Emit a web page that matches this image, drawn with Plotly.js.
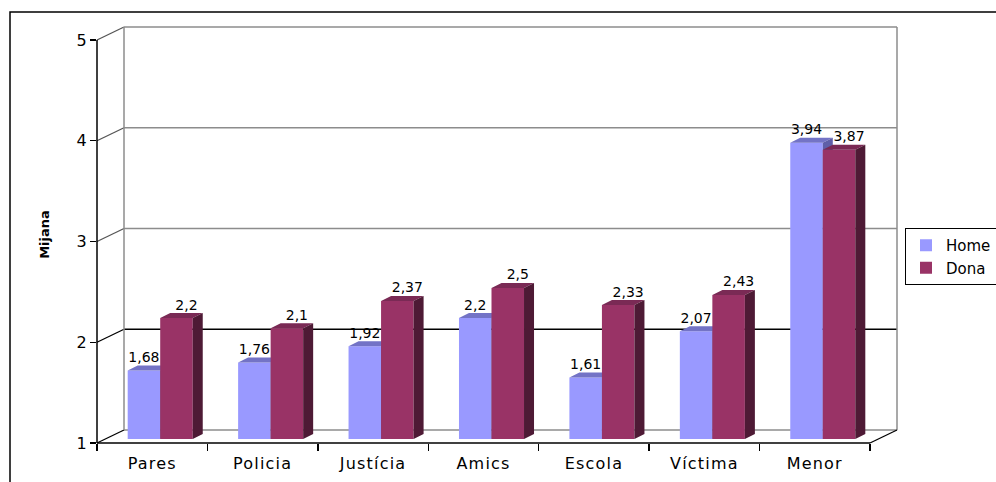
<!DOCTYPE html>
<html><head><meta charset="utf-8">
<script src="https://cdn.plot.ly/plotly-3.0.1.min.js"></script>
<style>
body{margin:0;background:#fff}
.xtick text{letter-spacing:1.2px}
</style>
</head><body>
<div id="chart" style="width:996px;height:482px"></div>
<script>
// ---- data ----
const categories = ['Pares','Policia','Justícia','Amics','Escola','Víctima','Menor'];
const homeValues = [1.68, 1.76, 1.92, 2.2, 1.61, 2.07, 3.94];
const donaValues = [2.2, 2.1, 2.37, 2.5, 2.33, 2.43, 3.87];
const yTickValues = [1, 2, 3, 4, 5];
const seriesNames = ['Home', 'Dona'];
const yTitle = 'Mijana';

// ---- geometry / style ----
const W = 996, H = 482;
const M = {l: 97, r: 99, t: 26, b: 39, autoexpand: false};
const plotW = W - M.l - M.r, plotH = H - M.t - M.b;
const catPx = 773 / 7;     // pixels per category on the front plane
const valPx = 100.75;      // pixels per unit on the value axis
const xmin = -0.5, xmax = xmin + plotW / catPx;
const ymin = 1, ymax = ymin + plotH / valPx;
const dx = p => p / catPx, dy = p => p / valPx;
const xp = v => (v - xmin) / (xmax - xmin);
const yp = v => (v - ymin) / (ymax - ymin);

const back = {x: dx(27), y: dy(13)};   // back wall offset
const plane = {x: dx(8), y: dy(4)};    // bar front plane offset
const depth = {x: dx(10), y: dy(5)};   // bar depth
const barW = 0.2945;
const FONT = 'DejaVu Sans, Liberation Sans, Arial, sans-serif';
const colors = {
  Home: {front: '#9999FF', top: '#7373C6', side: '#5F5FA8'},
  Dona: {front: '#993366', top: '#7A2A55', side: '#4E1A35'}
};
const fmt = v => String(v).replace('.', ',');

function faces(values, offsetUnits) {
  const f = {front: {x: [], y: []}, top: {x: [], y: []}, side: {x: [], y: []}};
  values.forEach((v, i) => {
    const xl = i + offsetUnits + plane.x, xr = xl + barW;
    const b = ymin + plane.y, t = v + plane.y;
    f.front.x.push(xl, xr, xr, xl, xl, null); f.front.y.push(b, b, t, t, b, null);
    f.top.x.push(xl, xr, xr + depth.x, xl + depth.x, xl, null);
    f.top.y.push(t, t, t + depth.y, t + depth.y, t, null);
    f.side.x.push(xr, xr + depth.x, xr + depth.x, xr, xr, null);
    f.side.y.push(b, b + depth.y, t + depth.y, t, b, null);
  });
  return f;
}

const traces = [];
const series = [[homeValues, -barW], [donaValues, 0]];
series.forEach(([vals, off], s) => {
  const name = seriesNames[s];
  const f = faces(vals, off);
  ['front', 'top', 'side'].forEach(k => {
    traces.push({type: 'scatter', mode: 'lines', x: f[k].x, y: f[k].y, fill: 'toself',
      fillcolor: colors[name][k], line: {width: 0, color: colors[name][k]},
      hoverinfo: 'skip', showlegend: false, name: name});
  });
});
// value labels
series.forEach(([vals, off], s) => {
  const shift = s === 0 ? 0 : depth.x;
  traces.push({type: 'scatter', mode: 'text', showlegend: false, hoverinfo: 'skip',
    x: vals.map((v, i) => i + off + plane.x + barW / 2 + shift),
    y: vals.map(v => v + plane.y + depth.y),
    text: vals.map(fmt), textposition: 'top center', cliponaxis: false,
    textfont: {family: FONT, size: 14, color: '#000'}});
});
// legend entries
seriesNames.forEach(name => {
  traces.push({type: 'scatter', mode: 'markers', x: [null], y: [null], name: name,
    marker: {symbol: 'square', size: 12, color: colors[name].front}});
});

// frame shapes
const shapes = [];
const L = (x0, y0, x1, y1, color, width) => shapes.push({type: 'line', xref: 'paper', yref: 'paper',
  x0: xp(x0), y0: yp(y0), x1: xp(x1), y1: yp(y1), layer: 'below', line: {color: color, width: width}});
const xEnd = xmin + categories.length;
yTickValues.forEach(v => {
  L(xmin + back.x, v + back.y, xEnd + back.x, v + back.y, v === 2 ? '#000' : '#8c8c8c', 1.5);
  L(xmin, v, xmin + back.x, v + back.y, v <= 2 ? '#000' : '#555', 1.3);
});
L(xmin + back.x, ymin + back.y, xmin + back.x, 5 + back.y, '#8c8c8c', 1.5);
L(xEnd + back.x, ymin + back.y, xEnd + back.x, 5 + back.y, '#8c8c8c', 1.5);
L(xmin, ymin, xEnd, ymin, '#000', 1.5);
L(xEnd, ymin, xEnd + back.x, ymin + back.y, '#000', 1.3);
L(xmin, ymin, xmin, 5, '#000', 1.5);
// outer border
shapes.push({type: 'rect', xref: 'paper', yref: 'paper',
  x0: (10 - M.l) / plotW, x1: (1010 - M.l) / plotW,
  y0: (H - M.b - 12) / plotH, y1: (H - M.b - 500) / plotH,
  line: {color: '#000', width: 1.5}, layer: 'below'});

const layout = {
  width: W, height: H, margin: M, paper_bgcolor: '#fff', plot_bgcolor: 'rgba(0,0,0,0)',
  font: {family: FONT, color: '#000'},
  showlegend: true,
  xaxis: {range: [xmin, xmax], showgrid: false, zeroline: false, showline: false,
    tickmode: 'array', tickvals: categories.map((c, i) => i), ticktext: categories,
    ticks: 'outside', ticklen: 6, tickcolor: 'rgba(0,0,0,0)',
    tickfont: {family: FONT, size: 16, color: '#000'},
    minor: {tickmode: 'array', tickvals: categories.map((c, i) => i - 0.5).concat([xEnd]),
      ticks: 'outside', ticklen: 7, tickwidth: 1.3, tickcolor: '#000', showgrid: false},
    fixedrange: true},
  yaxis: {range: [ymin, ymax], showgrid: false, zeroline: false, showline: false,
    tickmode: 'array', tickvals: yTickValues, ticktext: yTickValues.map(String),
    ticks: 'outside', ticklen: 6, tickwidth: 1.3, tickcolor: '#000',
    tickfont: {family: FONT, size: 16, color: '#000'},
    title: {text: '<b>' + yTitle + '</b>', font: {family: FONT, size: 13, color: '#000'}, standoff: 24},
    fixedrange: true},
  legend: {x: (905 - M.l) / plotW, xanchor: 'left', y: (H - M.b - 228) / plotH, yanchor: 'top',
    bgcolor: '#fff', bordercolor: '#000', borderwidth: 1,
    font: {family: FONT, size: 15, color: '#000'}, itemwidth: 30, tracegroupgap: 0},
  shapes: shapes
};
Plotly.newPlot('chart', traces, layout, {displayModeBar: false, staticPlot: true});
</script>
</body></html>
